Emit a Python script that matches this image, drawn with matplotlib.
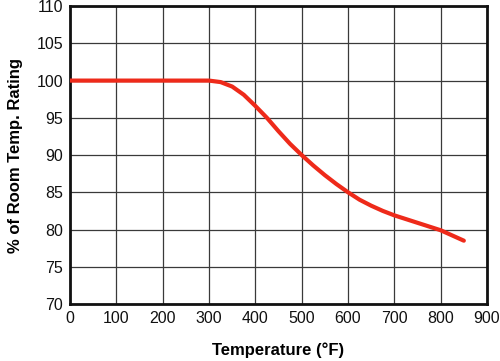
import matplotlib.pyplot as plt

# Datos
temp_f = [0, 300, 325, 350, 375, 400, 425, 450, 475, 500, 525, 550, 575, 600,
          625, 650, 675, 700, 725, 750, 775, 800, 825, 850]
rating = [100, 100, 99.8, 99.2, 98.1, 96.6, 95.0, 93.2, 91.5, 90.0, 88.6, 87.3,
          86.1, 85.0, 84.0, 83.2, 82.5, 81.9, 81.4, 80.9, 80.4, 79.9, 79.2, 78.5]
x_ticks = list(range(0, 901, 100))
y_ticks = list(range(70, 111, 5))

plt.rcParams['font.family'] = ['Liberation Sans', 'DejaVu Sans']

fig = plt.figure(figsize=(5, 3.61), dpi=100)
ax = fig.add_axes([0.14, 0.158, 0.834, 0.825])

ax.plot(temp_f, rating, color='#ee2a1a', linewidth=3, solid_capstyle='round',
        solid_joinstyle='round', zorder=3)

ax.set_xlim(0, 900)
ax.set_ylim(70, 110)
ax.set_xticks(x_ticks)
ax.set_yticks(y_ticks)
ax.grid(True, color='#3a3a3a', linewidth=0.9)
ax.tick_params(length=0, labelsize=11.5, pad=5, colors='#111111')
for s in ax.spines.values():
    s.set_linewidth(2)
    s.set_color('#111111')

ax.set_xlabel("Temperature (°F)", fontsize=12, fontweight='bold', labelpad=12)
ax.set_ylabel("% of Room Temp. Rating", fontsize=12, fontweight='bold', labelpad=10)

fig.savefig("out.png", dpi=100)
